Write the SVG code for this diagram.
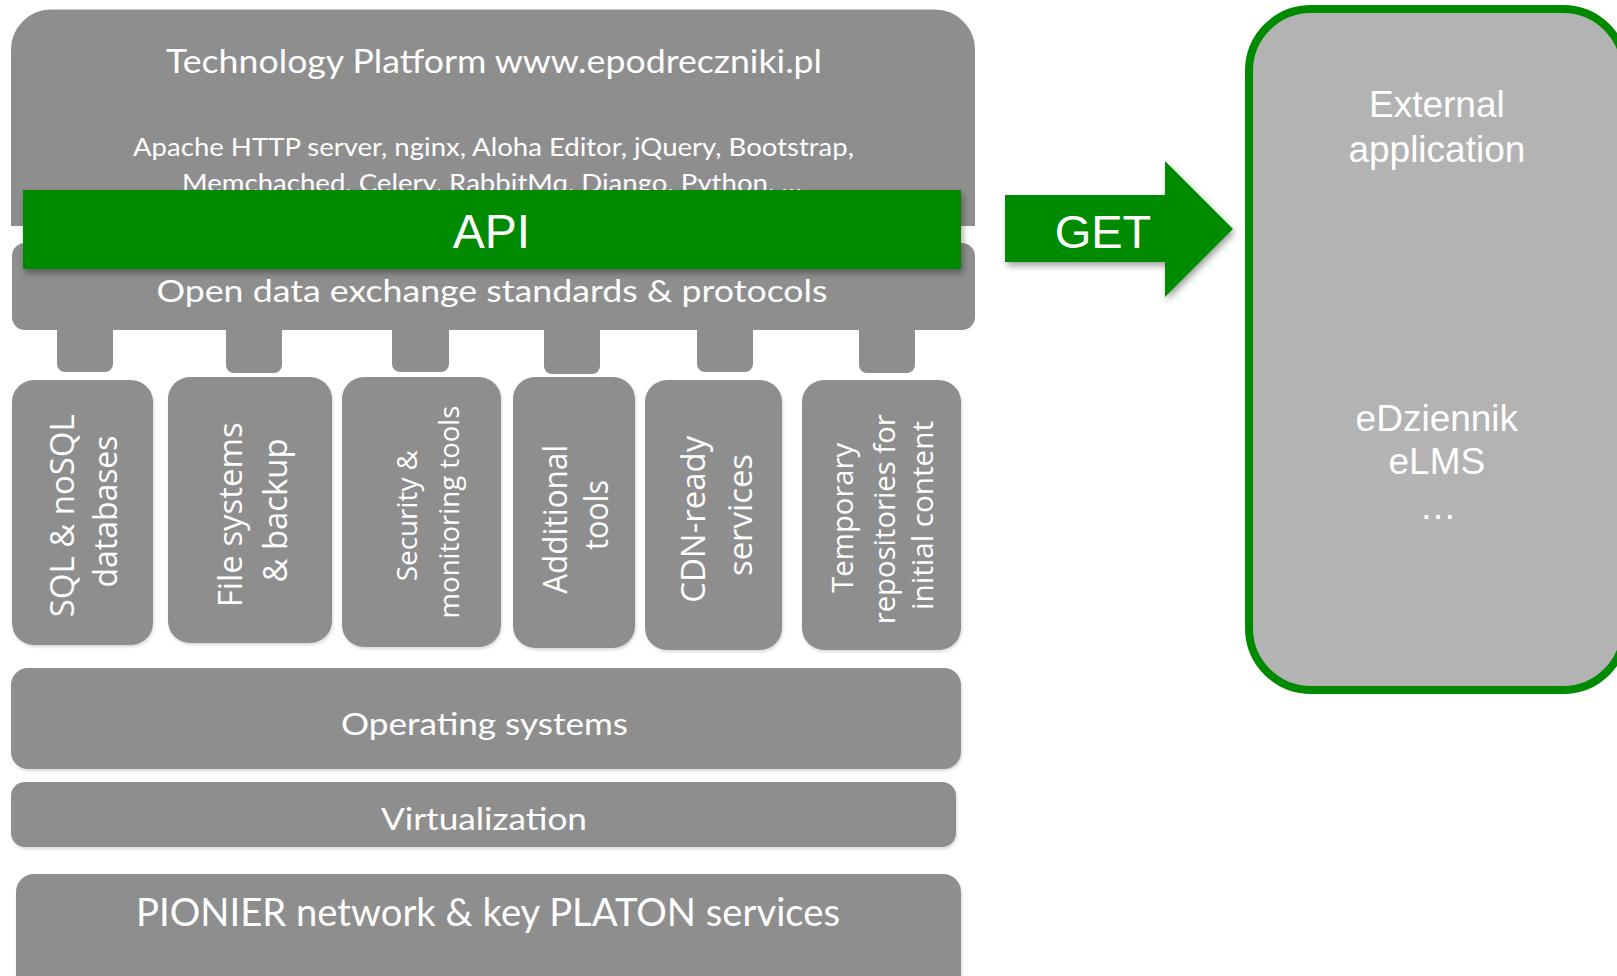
<svg xmlns="http://www.w3.org/2000/svg" width="1617" height="976" viewBox="0 0 1617 976">
<defs>
<style>
.box{fill:#8E8E8E;}
.cal{font-family:Lato,"Open Sans","Liberation Sans",sans-serif;fill:#FFFFFF;text-anchor:middle;}
.seg{font-family:"Open Sans","DejaVu Sans",sans-serif;fill:#FFFFFF;text-anchor:middle;}
.ar{font-family:"Liberation Sans",Arial,sans-serif;fill:#FFFFFF;text-anchor:middle;}
.green{fill:#008A00;}
</style>
<filter id="sh" x="-10%" y="-20%" width="120%" height="150%">
<feDropShadow dx="2" dy="4" stdDeviation="3" flood-color="#000" flood-opacity="0.35"/>
</filter>
<filter id="shl" x="-5%" y="-10%" width="110%" height="130%">
<feDropShadow dx="1" dy="2" stdDeviation="1.5" flood-color="#000" flood-opacity="0.15"/>
</filter>
</defs>

<g id="platform">
<path class="box" d="M11,226 V50 A40,40 0 0 1 51,9.5 H935 A40,40 0 0 1 975,50 V226 Z"/>
<text class="cal" x="494" y="73" font-size="33" textLength="656" lengthAdjust="spacingAndGlyphs">Technology Platform www.epodreczniki.pl</text>
<text class="cal" x="493.5" y="156" font-size="24.5" textLength="721" lengthAdjust="spacingAndGlyphs">Apache HTTP server, nginx, Aloha Editor, jQuery, Bootstrap,</text>
<text class="cal" x="492" y="192" font-size="24.5" textLength="620" lengthAdjust="spacingAndGlyphs">Memchached, Celery, RabbitMq, Django, Python, …</text>
</g>

<g id="tabs">
<rect class="box" x="57" y="320" width="56" height="52" rx="8"/>
<rect class="box" x="226" y="320" width="56" height="53" rx="8"/>
<rect class="box" x="392" y="320" width="57" height="52" rx="8"/>
<rect class="box" x="544" y="320" width="56" height="54" rx="8"/>
<rect class="box" x="697" y="320" width="56" height="52" rx="8"/>
<rect class="box" x="859" y="320" width="56" height="53" rx="8"/>
</g>

<g id="open-data">
<rect class="box" x="12" y="243" width="963" height="87" rx="13"/>
<text class="cal" x="492" y="301.5" font-size="31.5" textLength="671" lengthAdjust="spacingAndGlyphs">Open data exchange standards &amp; protocols</text>
</g>

<g id="api">
<rect class="green" x="23" y="190" width="938" height="79" filter="url(#sh)"/>
<text class="ar" x="491.5" y="248" font-size="48">API</text>
</g>

<g id="sql">
<rect class="box" x="12" y="380" width="141" height="265" rx="22" filter="url(#shl)"/>
<text class="seg" font-size="33" transform="translate(0,511.5) rotate(-90)">
<tspan x="0" y="74" textLength="203" lengthAdjust="spacingAndGlyphs">SQL &amp; noSQL</tspan>
<tspan x="0" y="117" textLength="152" lengthAdjust="spacingAndGlyphs">databases</tspan>
</text>
</g>

<g id="files">
<rect class="box" x="168" y="377" width="164" height="266" rx="22" filter="url(#shl)"/>
<text class="seg" font-size="33" transform="translate(0,510.5) rotate(-90)">
<tspan x="0" y="242" textLength="185" lengthAdjust="spacingAndGlyphs">File systems</tspan>
<tspan x="0" y="287" textLength="144" lengthAdjust="spacingAndGlyphs">&amp; backup</tspan>
</text>
</g>

<g id="security">
<rect class="box" x="342" y="377" width="159" height="270" rx="22" filter="url(#shl)"/>
<text class="seg" font-size="28" transform="translate(0,512) rotate(-90)">
<tspan x="0" y="417" textLength="131" lengthAdjust="spacingAndGlyphs">Security &amp;</tspan>
<tspan x="0" y="459" textLength="213" lengthAdjust="spacingAndGlyphs">monitoring tools</tspan>
</text>
</g>

<g id="additional">
<rect class="box" x="513" y="377" width="122" height="271" rx="22" filter="url(#shl)"/>
<text class="seg" font-size="33" transform="translate(0,515) rotate(-90)">
<tspan x="0" y="567" textLength="149" lengthAdjust="spacingAndGlyphs">Additional</tspan>
<tspan x="0" y="608" textLength="70" lengthAdjust="spacingAndGlyphs">tools</tspan>
</text>
</g>

<g id="cdn">
<rect class="box" x="645" y="380" width="137" height="270" rx="22" filter="url(#shl)"/>
<text class="seg" font-size="33" transform="translate(0,515) rotate(-90)">
<tspan x="0" y="705" textLength="167" lengthAdjust="spacingAndGlyphs">CDN-ready</tspan>
<tspan x="0" y="752" textLength="122" lengthAdjust="spacingAndGlyphs">services</tspan>
</text>
</g>

<g id="temporary">
<rect class="box" x="802" y="380" width="159" height="270" rx="22" filter="url(#shl)"/>
<text class="seg" font-size="29" transform="translate(0,515.5) rotate(-90)">
<tspan x="1.5" y="853" textLength="150" lengthAdjust="spacingAndGlyphs">Temporary</tspan>
<tspan x="0" y="895" textLength="210" lengthAdjust="spacingAndGlyphs">repositories for</tspan>
<tspan x="0" y="933" textLength="189" lengthAdjust="spacingAndGlyphs">initial content</tspan>
</text>
</g>

<g id="os">
<rect class="box" x="11" y="668" width="950" height="101" rx="17" filter="url(#shl)"/>
<text class="cal" x="484.5" y="735" font-size="31.5" textLength="287" lengthAdjust="spacingAndGlyphs">Operating systems</text>
</g>

<g id="virtualization">
<rect class="box" x="11" y="782" width="945" height="65" rx="14" filter="url(#shl)"/>
<text class="cal" x="484" y="830" font-size="31.5" textLength="206" lengthAdjust="spacingAndGlyphs">Virtualization</text>
</g>

<g id="pionier">
<rect class="box" x="16" y="874" width="945" height="120" rx="18" filter="url(#shl)"/>
<text class="cal" x="488" y="926" font-size="38" textLength="704" lengthAdjust="spacingAndGlyphs">PIONIER network &amp; key PLATON services</text>
</g>

<g id="connectors">
<polygon class="green" points="1005,195 1165,195 1165,161 1233,229 1165,297 1165,262 1005,262" filter="url(#sh)"/>
<text class="ar" x="1103" y="248" font-size="47">GET</text>
</g>

<g id="external">
<rect x="1249" y="9" width="376" height="681" rx="62" fill="#B3B3B3" stroke="#008A00" stroke-width="8"/>
<text class="ar" font-size="37">
<tspan x="1442" y="117">External</tspan>
<tspan x="1442" y="162">application</tspan>
<tspan x="1442" y="431">eDziennik</tspan>
<tspan x="1442" y="474">eLMS</tspan>
<tspan x="1438" y="519">…</tspan>
</text>
</g>
</svg>
